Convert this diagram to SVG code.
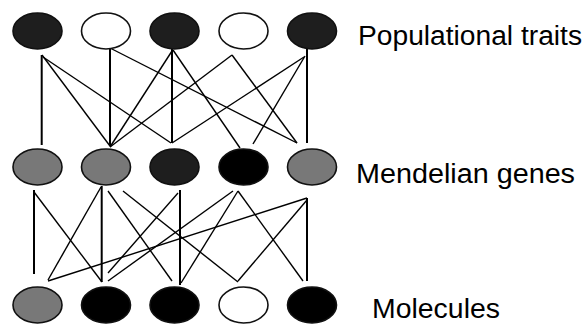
<svg xmlns="http://www.w3.org/2000/svg" width="588" height="327" viewBox="0 0 588 327">
<style>
.n{stroke:#111;stroke-width:1.6}
.dark{fill:#1e1e1e}
.white{fill:#fff}
.gray{fill:#787878}
.black{fill:#000}
.c line{stroke:#000;stroke-width:1.4;fill:none}
.c line.v{stroke-width:2}
text{font-family:"Liberation Sans",Arial,sans-serif;font-size:27px;fill:#000}
</style>
<rect width="588" height="327" fill="#fff"/>
<g class="c" id="connectors">
<line class="v" x1="41.7" y1="55" x2="41.7" y2="145"/>
<line x1="42" y1="55" x2="110" y2="146"/>
<line x1="43" y1="57" x2="171" y2="143"/>
<line class="v" x1="110" y1="48" x2="110" y2="146"/>
<line x1="110" y1="48" x2="297" y2="143"/>
<line class="v" x1="172" y1="49" x2="172" y2="143"/>
<line x1="172" y1="51" x2="110" y2="147"/>
<line x1="173" y1="50" x2="240" y2="148"/>
<line x1="232" y1="55" x2="110" y2="147"/>
<line x1="232" y1="55" x2="297" y2="143"/>
<line class="v" x1="307" y1="49" x2="307" y2="143"/>
<line x1="304" y1="57" x2="172" y2="143"/>
<line x1="305" y1="56" x2="253" y2="144"/>
<line class="v" x1="34" y1="190" x2="34" y2="274"/>
<line x1="34" y1="192" x2="102" y2="282"/>
<line class="v" x1="101.7" y1="186" x2="101.7" y2="282"/>
<line x1="101" y1="187" x2="48" y2="280"/>
<line x1="108" y1="191" x2="172" y2="281"/>
<line x1="123" y1="191" x2="238" y2="282"/>
<line class="v" x1="180" y1="190" x2="180" y2="285"/>
<line x1="178" y1="193" x2="108" y2="273"/>
<line x1="233" y1="191" x2="108" y2="281"/>
<line x1="238" y1="191" x2="181" y2="283"/>
<line x1="238" y1="191" x2="303" y2="281"/>
<line x1="307" y1="198" x2="48" y2="281"/>
<line x1="307" y1="200" x2="238" y2="281"/>
<line class="v" x1="307" y1="198" x2="307" y2="281"/>
</g>
<g id="t1"><ellipse class="n dark" cx="37.5" cy="31" rx="24.5" ry="18"/></g>
<g id="t2"><ellipse class="n white" cx="106" cy="31" rx="24.5" ry="18"/></g>
<g id="t3"><ellipse class="n dark" cx="174.5" cy="31" rx="24.5" ry="18"/></g>
<g id="t4"><ellipse class="n white" cx="243.5" cy="31" rx="24.5" ry="18"/></g>
<g id="t5"><ellipse class="n dark" cx="312" cy="31" rx="24.5" ry="18"/></g>
<g id="m1"><ellipse class="n gray" cx="37.5" cy="167" rx="24.5" ry="18"/></g>
<g id="m2"><ellipse class="n gray" cx="106" cy="167" rx="24.5" ry="18"/></g>
<g id="m3"><ellipse class="n dark" cx="174.5" cy="167" rx="24.5" ry="18"/></g>
<g id="m4"><ellipse class="n black" cx="243.5" cy="167" rx="24.5" ry="18"/></g>
<g id="m5"><ellipse class="n gray" cx="312" cy="167" rx="24.5" ry="18"/></g>
<g id="b1"><ellipse class="n gray" cx="37.5" cy="305" rx="24.5" ry="18"/></g>
<g id="b2"><ellipse class="n black" cx="106" cy="305" rx="24.5" ry="18"/></g>
<g id="b3"><ellipse class="n black" cx="174.5" cy="305" rx="24.5" ry="18"/></g>
<g id="b4"><ellipse class="n white" cx="243.5" cy="305" rx="24.5" ry="18"/></g>
<g id="b5"><ellipse class="n black" cx="312" cy="305" rx="24.5" ry="18"/></g>
<g id="labels">
<text x="358" y="45" textLength="224" lengthAdjust="spacingAndGlyphs">Populational traits</text>
<text x="356" y="183" textLength="219" lengthAdjust="spacingAndGlyphs">Mendelian genes</text>
<text x="372" y="318" textLength="128" lengthAdjust="spacingAndGlyphs">Molecules</text>
</g>
</svg>
